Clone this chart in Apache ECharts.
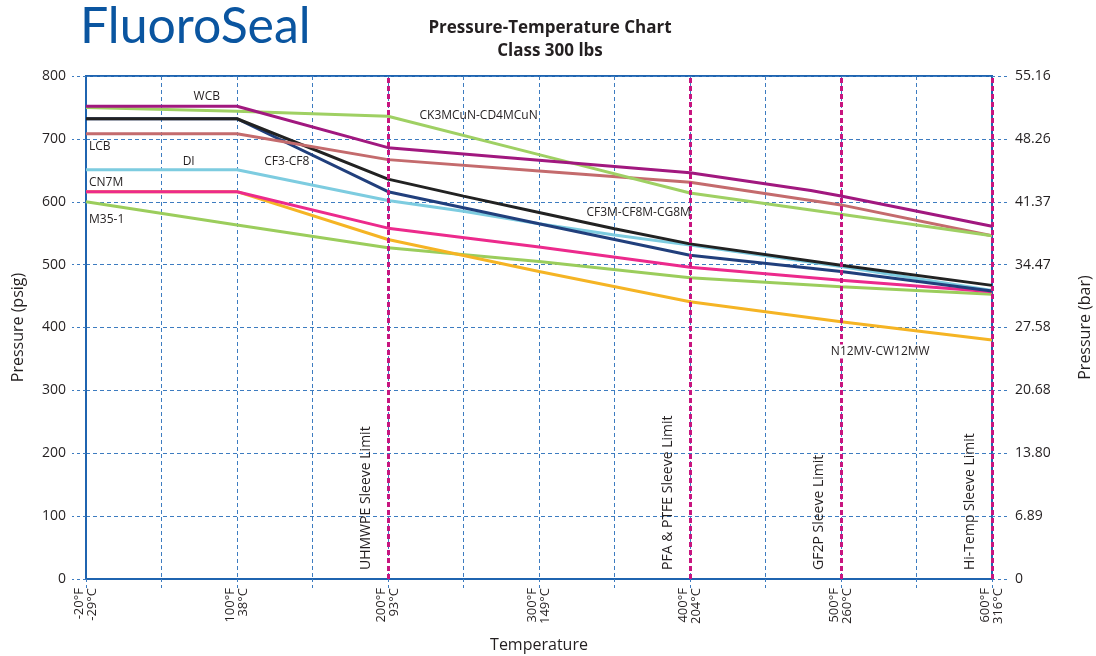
<!DOCTYPE html>
<html>
<head>
<meta charset="utf-8">
<script src="https://cdn.jsdelivr.net/npm/echarts@6/dist/echarts.min.js"></script>
<style>html,body{margin:0;padding:0;background:#fff}#c{width:1096px;height:656px}</style>
</head>
<body>
<div id="c"></div>
<script>
// ---- data ----
var tempLabels = ['-20°F\n-29°C', '100°F\n38°C', '200°F\n93°C', '300°F\n149°C', '400°F\n204°C', '500°F\n260°C', '600°F\n316°C'];
var psiTicks = [0, 100, 200, 300, 400, 500, 600, 700, 800];
var barTicks = ['0', '6.89', '13.80', '20.68', '27.58', '34.47', '41.37', '48.26', '55.16'];
var sleeveLimits = [
  { pos: 2, name: 'UHMWPE Sleeve Limit' },
  { pos: 4, name: 'PFA & PTFE Sleeve Limit' },
  { pos: 5, name: 'GF2P Sleeve Limit' },
  { pos: 6, name: 'Hi-Temp Sleeve Limit' }
];
var WCB = [[0, 752], [1, 752], [2, 686], [3, 666], [4, 646], [4.8, 618], [5, 609], [6, 561]];
var CK3MCuN = [[0, 750], [1, 744], [2, 736], [3, 675], [4, 614], [5, 580], [6, 546]];
var LCB = [[0, 708], [1, 708], [2, 667], [3, 649], [4, 631], [5, 595], [6, 546]];
var CF3CF8 = [[0, 732], [1, 732], [2, 616], [3, 565], [4, 515], [5, 489], [6, 458]];
var CF3M = [[0, 732], [1, 732], [2, 636], [2.5, 609], [3, 583], [3.5, 557], [4, 533], [5, 499], [6, 467]];
var DI = [[0, 651], [1, 651], [2, 602], [2.5, 585], [3, 565], [3.5, 547], [4, 531], [5, 497], [6, 459]];
var N12MV = [[0, 616], [1, 616], [2, 540], [3, 489], [4, 441], [5, 409], [6, 380]];
var CN7M = [[0, 616], [1, 616], [2, 558], [3, 528], [4, 496], [5, 475], [6, 457]];
var M35 = [[0, 600], [1, 563], [2, 527], [3, 505], [4, 479], [5, 465], [6, 453]];

var FONT = '"Open Sans", "Noto Sans", sans-serif';
var TXT = '#231f20';
var BLUE = '#1f64b0';
var GRIDC = '#3d7cc0';

function tag(name, coord, align, bg) {
  return {
    coord: coord, symbol: 'circle', symbolSize: 0,
    label: { show: true, formatter: name, color: TXT, fontSize: 12, fontFamily: FONT, align: align || 'center',
      position: 'inside', backgroundColor: bg || 'transparent', padding: bg ? [1, 2] : 0 }
  };
}
function line(name, data, color, tags, z) {
  return {
    name: name, type: 'line', data: data, symbol: 'none', z: z || 2,
    lineStyle: { color: color, width: 3 }, itemStyle: { color: color },
    markPoint: tags ? { data: tags, silent: true } : undefined
  };
}

var chart = echarts.init(document.getElementById('c'));
chart.setOption({
  animation: false,
  backgroundColor: '#fff',
  title: {
    text: 'Pressure-Temperature Chart\nClass 300 lbs',
    left: 545, top: 12, textAlign: 'center',
    textStyle: { fontFamily: FONT, fontWeight: 'bold', fontSize: 17, color: TXT, lineHeight: 23 }
  },
  graphic: [{
    type: 'text', left: 80, top: 2,
    style: { text: 'FluoroSeal', font: 'normal 50px Lato, "Open Sans", sans-serif', fill: '#0a55a0' }
  }],
  grid: { left: 86, right: 104, top: 76, bottom: 77, show: true, borderColor: BLUE, borderWidth: 2,
    containLabel: false, outerBoundsMode: 'none' },
  xAxis: {
    type: 'value', min: 0, max: 6, interval: 0.5,
    name: 'Temperature', nameLocation: 'middle', nameGap: 58,
    nameTextStyle: { fontFamily: FONT, fontSize: 16, color: TXT },
    axisLine: { show: true, lineStyle: { color: BLUE, width: 2 } },
    axisTick: { show: true, length: 9, lineStyle: { color: GRIDC, type: [3, 3] } },
    axisLabel: {
      rotate: 90, margin: 9, fontFamily: FONT, fontSize: 13, color: TXT, lineHeight: 13,
      formatter: function (v) { return Number.isInteger(v) ? tempLabels[v] : ''; }
    },
    splitLine: { show: true, lineStyle: { color: GRIDC, type: [4, 3], width: 1 } }
  },
  yAxis: [{
    type: 'value', min: psiTicks[0], max: psiTicks[psiTicks.length - 1], interval: 100,
    name: 'Pressure (psig)', nameLocation: 'middle', nameGap: 60,
    nameTextStyle: { fontFamily: FONT, fontSize: 16, color: TXT },
    axisLine: { show: true, lineStyle: { color: BLUE, width: 2 } },
    axisTick: { show: true, length: 14, lineStyle: { color: GRIDC, type: [3, 3] } },
    axisLabel: { margin: 20, fontFamily: FONT, fontSize: 14, color: TXT },
    splitLine: { show: true, lineStyle: { color: GRIDC, type: [4, 3], width: 1 } }
  }, {
    type: 'value', position: 'right', min: 0, max: 800, interval: 100,
    name: 'Pressure (bar)', nameLocation: 'middle', nameGap: 85, nameRotate: 90,
    nameTextStyle: { fontFamily: FONT, fontSize: 16, color: TXT },
    axisLine: { show: true, lineStyle: { color: BLUE, width: 2 } },
    axisTick: { show: true, length: 18, lineStyle: { color: GRIDC, type: [3, 3] } },
    axisLabel: { margin: 23, fontFamily: FONT, fontSize: 14, color: TXT,
      formatter: function (v) { return barTicks[Math.round(v / 100)]; } },
    splitLine: { show: false }
  }],
  series: [
    {
      name: 'limits', type: 'line', data: [], z: 1,
      markLine: {
        silent: true, symbol: 'none',
        lineStyle: { color: '#c8157f', width: 3, type: [5, 3] },
        label: { show: true, position: 'insideStartTop', distance: [9, 15], formatter: '{b}',
          fontFamily: FONT, fontSize: 14, color: TXT },
        data: sleeveLimits.map(function (s) { return { xAxis: s.pos, name: s.name }; })
      }
    },
    line('M35-1', M35, '#9bcd5c', [tag('M35-1', [0.02, 572], 'left')], 2),
    line('N12MV-CW12MW', N12MV, '#f5b424', [tag('N12MV-CW12MW', [5.26, 362], 'center', '#fff')], 2),
    line('CN7M', CN7M, '#ec2a8c', [tag('CN7M', [0.02, 630], 'left')], 3),
    line('DI', DI, '#7dcce0', [tag('DI', [0.68, 664])], 3),
    line('CF3-CF8', CF3CF8, '#213f7c', [tag('CF3-CF8', [1.33, 664])], 3),
    line('CF3M-CF8M-CG8M', CF3M, '#222222', [tag('CF3M-CF8M-CG8M', [3.66, 582])], 4),
    line('LCB', LCB, '#c46b6d', [tag('LCB', [0.02, 687], 'left')], 4),
    line('CK3MCuN-CD4MCuN', CK3MCuN, '#9fd063', [tag('CK3MCuN-CD4MCuN', [2.6, 737])], 4),
    line('WCB', WCB, '#a1187f', [tag('WCB', [0.8, 767])], 5)
  ]
});
</script>
</body>
</html>
